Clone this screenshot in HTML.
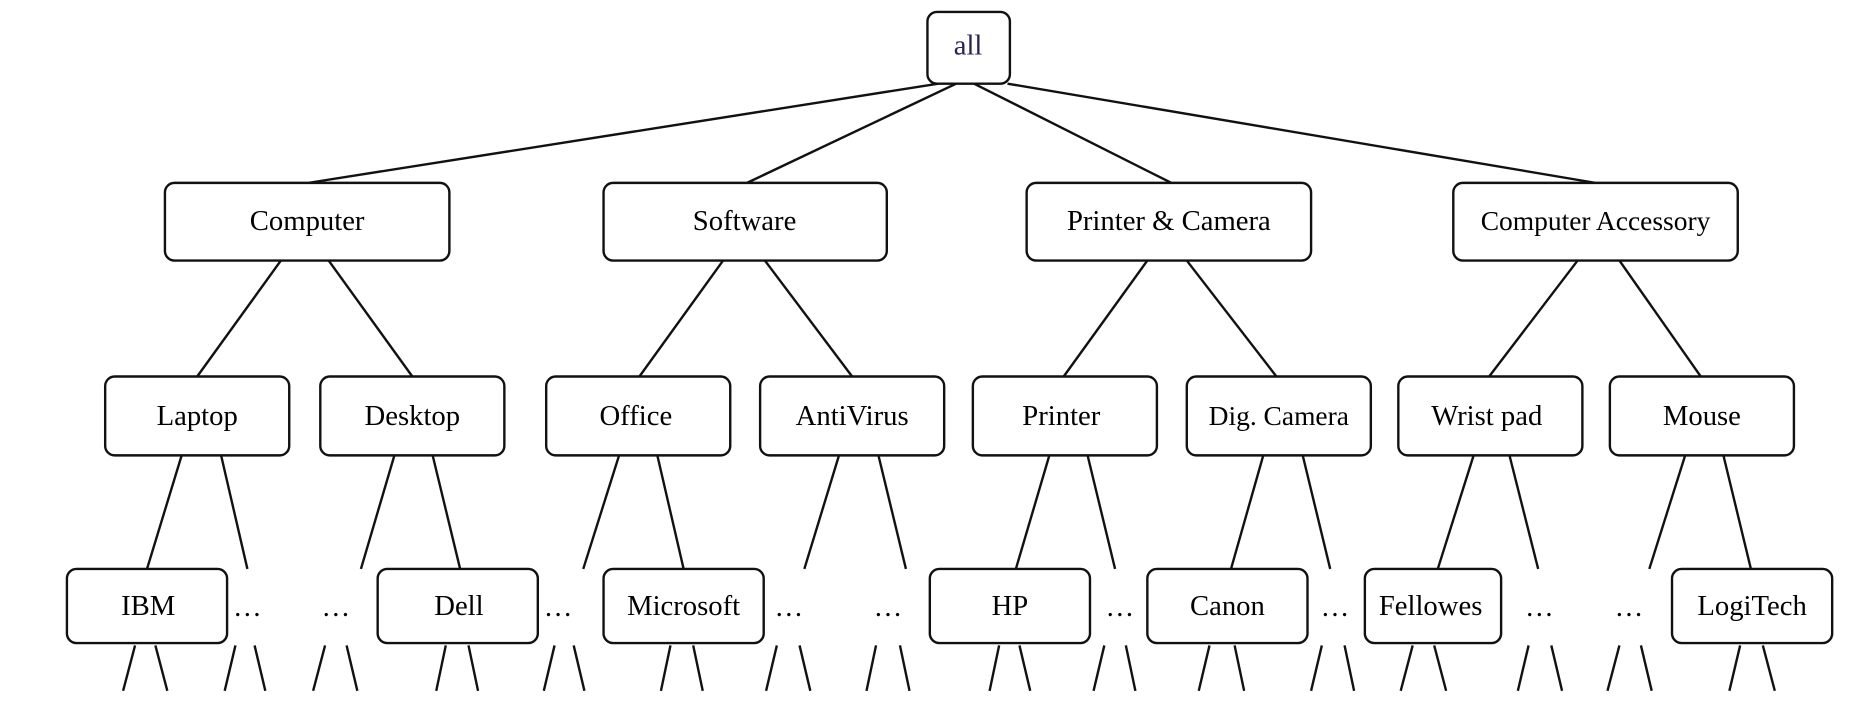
<!DOCTYPE html>
<html><head><meta charset="utf-8"><style>
html,body{margin:0;padding:0;background:#fff;}
svg{display:block;}
text{font-family:"Liberation Serif",serif;font-size:24px;fill:#000;text-anchor:middle;dominant-baseline:central;}
</style></head><body>
<svg width="1874" height="720" viewBox="0 0 1568 602.4" preserveAspectRatio="none">
<g stroke="#111" stroke-width="2" fill="none">
<line x1="785" y1="70" x2="258" y2="153"/><line x1="800" y1="70" x2="625" y2="153"/>
<line x1="815" y1="70" x2="980" y2="153"/><line x1="843" y1="70" x2="1335" y2="153"/>
<line x1="235" y1="218" x2="165" y2="315"/><line x1="275" y1="218" x2="345" y2="315"/>
<line x1="605" y1="218" x2="535" y2="315"/><line x1="640" y1="218" x2="713" y2="315"/>
<line x1="960" y1="218" x2="890" y2="315"/><line x1="993" y1="218" x2="1068" y2="315"/>
<line x1="1320" y1="218" x2="1246" y2="315"/><line x1="1355" y1="218" x2="1423" y2="315"/>
<line x1="152" y1="381" x2="123" y2="476"/><line x1="185" y1="381" x2="207" y2="476"/>
<line x1="330" y1="381" x2="302" y2="476"/><line x1="362" y1="381" x2="385" y2="476"/>
<line x1="518" y1="381" x2="488" y2="476"/><line x1="550" y1="381" x2="572" y2="476"/>
<line x1="702" y1="381" x2="673" y2="476"/><line x1="735" y1="381" x2="758" y2="476"/>
<line x1="878" y1="381" x2="850" y2="476"/><line x1="910" y1="381" x2="933" y2="476"/>
<line x1="1057" y1="381" x2="1030" y2="476"/><line x1="1090" y1="381" x2="1113" y2="476"/>
<line x1="1233" y1="381" x2="1203" y2="476"/><line x1="1263" y1="381" x2="1287" y2="476"/>
<line x1="1410" y1="381" x2="1380" y2="476"/><line x1="1442" y1="381" x2="1465" y2="476"/>
<line x1="113" y1="540" x2="103" y2="578"/><line x1="130" y1="540" x2="140" y2="578"/>
<line x1="197" y1="540" x2="188" y2="578"/><line x1="213" y1="540" x2="222" y2="578"/>
<line x1="272" y1="540" x2="262" y2="578"/><line x1="290" y1="540" x2="299" y2="578"/>
<line x1="373" y1="540" x2="365" y2="578"/><line x1="392" y1="540" x2="400" y2="578"/>
<line x1="464" y1="540" x2="455" y2="578"/><line x1="480" y1="540" x2="489" y2="578"/>
<line x1="561" y1="540" x2="553" y2="578"/><line x1="580" y1="540" x2="588" y2="578"/>
<line x1="650" y1="540" x2="641" y2="578"/><line x1="669" y1="540" x2="678" y2="578"/>
<line x1="733" y1="540" x2="725" y2="578"/><line x1="753" y1="540" x2="761" y2="578"/>
<line x1="836" y1="540" x2="828" y2="578"/><line x1="853" y1="540" x2="862" y2="578"/>
<line x1="924" y1="540" x2="915" y2="578"/><line x1="942" y1="540" x2="950" y2="578"/>
<line x1="1012" y1="540" x2="1003" y2="578"/><line x1="1033" y1="540" x2="1041" y2="578"/>
<line x1="1106" y1="540" x2="1097" y2="578"/><line x1="1125" y1="540" x2="1133" y2="578"/>
<line x1="1182" y1="540" x2="1172" y2="578"/><line x1="1200" y1="540" x2="1210" y2="578"/>
<line x1="1279" y1="540" x2="1270" y2="578"/><line x1="1298" y1="540" x2="1307" y2="578"/>
<line x1="1355" y1="540" x2="1345" y2="578"/><line x1="1373" y1="540" x2="1382" y2="578"/>
<line x1="1456" y1="540" x2="1447" y2="578"/><line x1="1475" y1="540" x2="1485" y2="578"/>
</g>
<g stroke="#111" stroke-width="2" fill="#fff">
<rect x="776" y="10" width="69" height="60" rx="8"/>
<rect x="138" y="153" width="238" height="65" rx="8"/>
<rect x="505" y="153" width="237" height="65" rx="8"/>
<rect x="859" y="153" width="238" height="65" rx="8"/>
<rect x="1216" y="153" width="238" height="65" rx="8"/>
<rect x="88" y="315" width="154" height="66" rx="8"/>
<rect x="268" y="315" width="154" height="66" rx="8"/>
<rect x="457" y="315" width="154" height="66" rx="8"/>
<rect x="636" y="315" width="154" height="66" rx="8"/>
<rect x="814" y="315" width="154" height="66" rx="8"/>
<rect x="993" y="315" width="154" height="66" rx="8"/>
<rect x="1170" y="315" width="154" height="66" rx="8"/>
<rect x="1347" y="315" width="154" height="66" rx="8"/>
<rect x="56" y="476" width="134" height="62" rx="8"/>
<rect x="316" y="476" width="134" height="62" rx="8"/>
<rect x="505" y="476" width="134" height="62" rx="8"/>
<rect x="778" y="476" width="134" height="62" rx="8"/>
<rect x="960" y="476" width="134" height="62" rx="8"/>
<rect x="1142" y="476" width="114" height="62" rx="8"/>
<rect x="1399" y="476" width="134" height="62" rx="8"/>
</g>
<text x="810" y="38" style="fill:#2a2250">all</text>
<text x="257" y="185">Computer</text>
<text x="623" y="185">Software</text>
<text x="978" y="185">Printer &amp; Camera</text>
<text x="1335" y="185" style="font-size:23px">Computer Accessory</text>
<text x="165" y="348">Laptop</text>
<text x="345" y="348">Desktop</text>
<text x="532" y="348">Office</text>
<text x="713" y="348">AntiVirus</text>
<text x="888" y="348">Printer</text>
<text x="1070" y="348" style="font-size:23px">Dig. Camera</text>
<text x="1244" y="348">Wrist pad</text>
<text x="1424" y="348">Mouse</text>
<text x="124" y="507">IBM</text>
<text x="384" y="507">Dell</text>
<text x="572" y="507">Microsoft</text>
<text x="845" y="507">HP</text>
<text x="1027" y="507">Canon</text>
<text x="1197" y="507">Fellowes</text>
<text x="1466" y="507">LogiTech</text>
<text x="207" y="508">…</text><text x="281" y="508">…</text><text x="467" y="508">…</text>
<text x="660" y="508">…</text><text x="743" y="508">…</text><text x="937" y="508">…</text>
<text x="1117" y="508">…</text><text x="1288" y="508">…</text><text x="1363" y="508">…</text>
</svg>
</body></html>
